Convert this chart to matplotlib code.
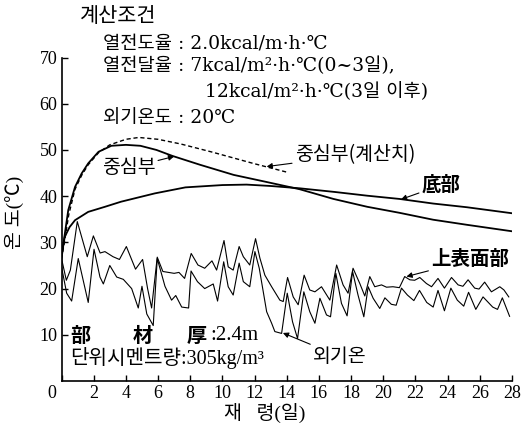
import matplotlib
matplotlib.use("Agg")
import matplotlib.pyplot as plt

# ---- data (day, temperature degC) ----
core_day = [0, 0.17, 0.42, 0.84, 1.25, 1.66, 2.3, 3.1, 4.0, 4.9, 5.9, 6.9, 8.6,
            10.7, 12.7, 14.8, 16.9, 19.0, 21.0, 23.1, 25.2, 28.0]
core_temp = [26.5, 31.0, 37.0, 42.0, 44.9, 47.1, 49.6, 50.9, 51.1, 50.9, 50.0, 48.7, 46.8,
             44.6, 43.1, 41.5, 39.4, 37.7, 36.4, 34.9, 33.8, 32.4]

calc_day = [0, 0.2, 0.45, 0.84, 1.25, 1.66, 2.3, 3.0, 4.0, 4.8, 6.0, 7.4, 9.4, 11.9, 14.0]
calc_temp = [26.5, 30.5, 36.0, 41.5, 44.5, 46.8, 49.4, 51.1, 52.3, 52.7, 52.3, 51.3, 49.5, 47.1, 45.2]

bottom_day = [0, 0.2, 0.5, 0.84, 1.66, 2.7, 3.7, 5.8, 7.7, 10.0, 11.5, 13.0, 14.8,
              17.0, 19.0, 21.0, 23.1, 25.2, 28.0]
bottom_temp = [27.0, 31.2, 33.3, 34.8, 36.6, 37.7, 38.8, 40.6, 41.9, 42.4, 42.5, 42.2, 41.7,
               40.9, 40.1, 39.4, 38.4, 37.6, 36.3]

surf_day = [0.0, 0.3, 0.55, 0.98, 1.6, 1.98, 2.4, 2.7, 3.2, 3.6, 4.03, 4.6, 5.04, 5.35, 5.6,
            5.95, 6.3, 7.0, 7.3, 7.65, 8.06, 8.48, 8.9, 9.35, 9.64, 10.1, 10.36, 10.67,
            11.04, 11.3, 11.7, 12.06, 12.33, 12.64, 13.06, 13.57, 13.78, 14.05, 14.4,
            14.71, 15.08, 15.43, 15.75, 16.16, 16.68, 17.1, 17.5, 17.81, 18.12, 18.54,
            18.85, 19.16, 19.47, 19.89, 20.2, 20.6, 21.0, 21.33, 21.65, 21.95, 22.27,
            22.68, 23.0, 23.4, 23.8, 24.24, 24.65, 24.95, 25.27, 25.68, 25.95, 26.3,
            26.72, 27.24, 27.5, 27.8]
surf_temp = [26.5, 21.8, 24.0, 34.5, 26.9, 31.4, 27.7, 28.0, 26.9, 26.3, 29.1, 24.2, 26.3, 20.0, 15.8,
             26.8, 23.7, 23.3, 23.5, 22.2, 27.6, 25.1, 24.4, 26.0, 24.0, 30.4, 24.7, 24.0,
             29.1, 26.9, 25.1, 30.8, 26.6, 22.9, 20.4, 17.5, 17.2, 22.4, 18.2,
             16.5, 22.9, 19.7, 19.3, 20.4, 17.5, 25.1, 20.8, 19.0, 24.4, 21.1,
             18.4, 22.6, 20.4, 20.8, 20.3, 20.4, 20.2, 22.6, 21.9, 21.8, 22.4,
             21.1, 20.4, 22.2, 20.1, 22.4, 20.8, 20.5, 21.9, 20.1, 19.9, 21.4,
             19.3, 20.4, 19.7, 18.2]

air_day = [0.0, 0.32, 0.63, 1.04, 1.66, 2.02, 2.39, 2.6, 3.0, 3.43, 3.84, 4.36, 4.77, 5.0,
           5.3, 5.7, 5.95, 6.43, 6.84, 7.1, 7.47, 7.9, 8.05, 8.45, 8.9, 9.43, 9.7, 10.08,
           10.36, 10.67, 11.04, 11.3, 11.7, 12.02, 12.29, 12.54, 12.75, 13.06, 13.26,
           13.68, 14.03, 14.36, 14.67, 15.06, 15.43, 15.75, 16.06, 16.47, 16.72, 17.05,
           17.4, 17.75, 18.09, 18.43, 18.79, 19.06, 19.37, 19.78, 20.1, 20.5, 20.8,
           21.13, 21.5, 21.9, 22.25, 22.7, 23.1, 23.4, 23.8, 24.2, 24.6, 25.0, 25.3,
           25.75, 26.2, 26.8, 27.1, 27.4, 27.85]
air_temp = [24.7, 19.0, 17.3, 26.5, 17.0, 28.5, 22.5, 21.0, 25.0, 22.5, 22.0, 20.0, 15.8, 20.5,
            14.5, 12.0, 26.5, 20.5, 17.5, 18.5, 16.0, 15.8, 23.8, 21.5, 20.0, 21.0, 17.3, 25.8,
            20.4, 18.6, 25.5, 21.5, 20.4, 28.0, 24.4, 19.3, 15.0, 12.5, 10.7,
            10.3, 19.0, 12.8, 9.2, 19.3, 15.0, 12.5, 17.9, 14.3, 13.9, 23.3,
            16.8, 14.1, 23.7, 18.6, 13.9, 20.4, 17.9, 15.7, 18.0, 16.6, 16.4,
            20.1, 18.6, 17.4, 19.6, 17.0, 16.0, 19.6, 15.2, 20.1, 17.5, 16.2, 19.2,
            15.5, 18.2, 16.0, 15.5, 18.0, 14.0]

xticks = list(range(0, 29, 2))
yticks = [10, 20, 30, 40, 50, 60, 70]

SERIF = ['Liberation Serif', 'Noto Sans CJK KR']
WIDE = ['DejaVu Serif', 'Noto Sans CJK KR']
KR = ['Noto Sans CJK KR', 'DejaVu Sans']
W, H = 524, 438

fig = plt.figure(figsize=(W / 100, H / 100), dpi=100)
ax = fig.add_axes([0.1174, 0.1301, 0.8597, 0.7386])

ax.plot(core_day, core_temp, color='black', lw=1.3)
ax.plot(calc_day, calc_temp, color='black', lw=1.0, dashes=(3, 2))
ax.plot(bottom_day, bottom_temp, color='black', lw=1.3)
ax.plot(surf_day, surf_temp, color='black', lw=0.8)
ax.plot(air_day, air_temp, color='black', lw=0.8)

ax.set_xlim(0, 28)
ax.set_ylim(0, 70)
ax.set_xticks(xticks)
ax.set_xticklabels([''] + [str(t) for t in xticks[1:]], family=SERIF, fontsize=13)
ax.set_yticks(yticks)
ax.set_yticklabels([str(t) for t in yticks], family=SERIF, fontsize=13)
ax.tick_params(direction='in', length=4, width=1, pad=3)
for s in ('top', 'right'):
    ax.spines[s].set_visible(False)
for s in ('left', 'bottom'):
    ax.spines[s].set_linewidth(1.2)
ax.annotate('0', xy=(0, 0), xytext=(-10, -12), textcoords='offset pixels',
            ha='center', va='center', family=SERIF, fontsize=13)


def ftxt(px, py, s, **kw):
    fig.text(px / W, 1 - py / H, s, va='center', **kw)


# conditions
ftxt(80, 16, '계산조건', family=KR, fontsize=15)
ftxt(103, 43, '열전도율 : 2.0kcal/m·h·℃', family=WIDE, fontsize=13.5)
ftxt(103, 66, '열전달율 : 7kcal/m²·h·℃(0~3일),', family=WIDE, fontsize=13.5)
ftxt(205, 92, '12kcal/m²·h·℃(3일 이후)', family=WIDE, fontsize=13.5)
ftxt(103, 118, '외기온도 : 20℃', family=WIDE, fontsize=13.5)

# member info
ftxt(70, 335, '部', family=KR, fontsize=14.5, fontweight='bold')
ftxt(133, 335, '材', family=KR, fontsize=14.5, fontweight='bold')
ftxt(187, 335, '厚', family=KR, fontsize=14.5, fontweight='bold')
ftxt(210, 335, ':2.4m', family=SERIF, fontsize=15)
ftxt(70, 358, '단위시멘트량:305kg/m³', family=SERIF, fontsize=14.5)

# axis labels
ftxt(265, 413, '재   령(일)', family=SERIF, fontsize=14, ha='center')
ftxt(14, 212, '온 도(℃)', family=SERIF, fontsize=14, ha='center', rotation=90)

arrow = dict(arrowstyle='-|>', color='black', lw=0.8, mutation_scale=8,
             shrinkA=0, shrinkB=0)
ax.annotate('중심부(계산치)', xy=(12.75, 46.4), xytext=(14.5, 48.9), family=KR,
            fontsize=14, va='center', ha='left', arrowprops=arrow)
ax.annotate('중심부', xy=(7.0, 48.6), xytext=(4.16, 46.1), family=KR,
            fontsize=14, va='center', ha='center', arrowprops=arrow)
ax.annotate('底部', xy=(21.1, 39.3), xytext=(23.6, 42.4), family=KR, fontweight='bold',
            fontsize=14, va='center', ha='center', arrowprops=arrow)
ax.annotate('上表面部', xy=(21.44, 22.6), xytext=(25.4, 26.2), family=KR, fontweight='bold',
            fontsize=14, va='center', ha='center', arrowprops=arrow)
ax.annotate('외기온', xy=(13.76, 10.4), xytext=(17.3, 5.3), family=KR,
            fontsize=14, va='center', ha='center', arrowprops=arrow)

fig.savefig('out.png', dpi=100)
